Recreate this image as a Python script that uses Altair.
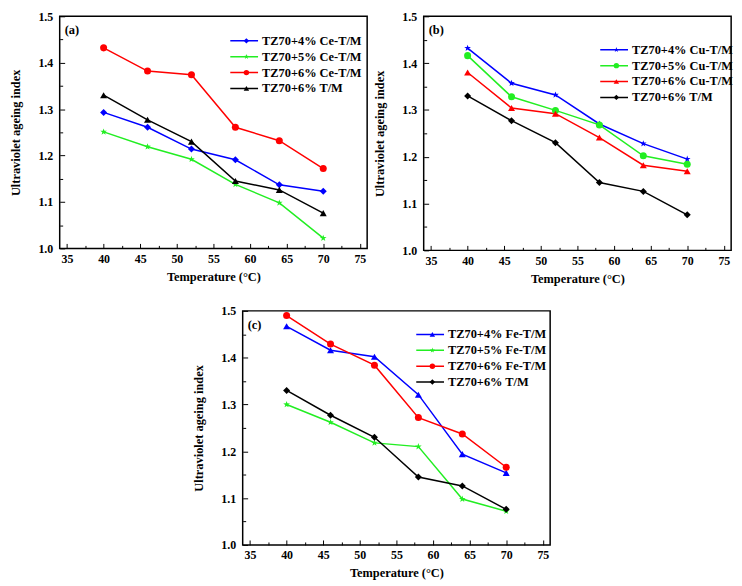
import altair as alt
import pandas as pd

STAR = "M0,-1L0.235,-0.324L0.951,-0.309L0.38,0.124L0.588,0.809L0,0.4L-0.588,0.809L-0.38,0.124L-0.951,-0.309L-0.235,-0.324Z"

temps = [40, 46, 52, 58, 64, 70]
tm_values = [1.330, 1.277, 1.230, 1.145, 1.126, 1.076]

a_series = ["TZ70+4% Ce-T/M", "TZ70+5% Ce-T/M", "TZ70+6% Ce-T/M", "TZ70+6% T/M"]
a_4 = [1.293, 1.261, 1.214, 1.191, 1.137, 1.123]
a_5 = [1.251, 1.219, 1.192, 1.138, 1.098, 1.022]
a_6 = [1.432, 1.382, 1.374, 1.261, 1.232, 1.172]

b_series = ["TZ70+4% Cu-T/M", "TZ70+5% Cu-T/M", "TZ70+6% Cu-T/M", "TZ70+6% T/M"]
b_4 = [1.432, 1.357, 1.332, 1.270, 1.228, 1.195]
b_5 = [1.416, 1.328, 1.299, 1.268, 1.202, 1.184]
b_6 = [1.380, 1.304, 1.292, 1.241, 1.182, 1.169]

c_series = ["TZ70+4% Fe-T/M", "TZ70+5% Fe-T/M", "TZ70+6% Fe-T/M", "TZ70+6% T/M"]
c_4 = [1.467, 1.416, 1.402, 1.321, 1.194, 1.154]
c_5 = [1.300, 1.262, 1.218, 1.210, 1.098, 1.072]
c_6 = [1.490, 1.429, 1.384, 1.272, 1.237, 1.166]

colors = ["#0000FF", "#22EE22", "#FF0000", "#000000"]
x_ticks = [35 + 2.5 * i for i in range(17)]
y_ticks = [round(1.0 + 0.05 * i, 2) for i in range(11)]

FONT = "Liberation Serif"

xaxis = alt.Axis(
    values=x_ticks,
    labelExpr="datum.value % 5 == 0 ? datum.label : ''",
    tickSize={"expr": "datum.value % 5 == 0 ? -5 : -3"},
    labelPadding=10,
    grid=False,
    domain=False,
    labelOverlap=False,
    labelFlush=False,
    tickColor="black",
    tickWidth=1,
    labelFont=FONT,
    labelFontSize=12,
    labelFontWeight="bold",
    labelColor="black",
    titleFont=FONT,
    titleFontSize=12.5,
    titleFontWeight="bold",
    titleColor="black",
    titlePadding=4,
)
yaxis = alt.Axis(
    values=y_ticks,
    labelExpr="abs(datum.value*10 - round(datum.value*10)) < 0.001 ? format(datum.value, '.1f') : ''",
    tickSize={"expr": "abs(datum.value*10 - round(datum.value*10)) < 0.001 ? -5 : -3"},
    labelPadding=12,
    grid=False,
    domain=False,
    labelOverlap=False,
    labelFlush=False,
    tickColor="black",
    tickWidth=1,
    labelFont=FONT,
    labelFontSize=12,
    labelFontWeight="bold",
    labelColor="black",
    titleFont=FONT,
    titleFontSize=12.5,
    titleFontWeight="bold",
    titleColor="black",
    titlePadding=16,
)


def panel(series, values, shapes, label, lx, ly, h):
    rows = []
    for s, vals in zip(series, values):
        for t, v in zip(temps, vals):
            rows.append({"temp": t, "value": v, "series": s, "series_p": s})
    df = pd.DataFrame(rows)
    x = alt.X("temp:Q", scale=alt.Scale(domain=[34, 76], nice=False, zero=False),
              axis=xaxis, title="Temperature (°C)")
    y = alt.Y("value:Q", scale=alt.Scale(domain=[1.0, 1.5], nice=False, zero=False),
              axis=yaxis, title="Ultraviolet ageing index")
    common = dict(title=None, orient="none", legendX=lx, legendY=ly,
                  labelFont=FONT, labelFontSize=12.5, labelFontWeight="bold",
                  labelColor="black", clipHeight=15.5, rowPadding=0, padding=0)
    line_legend = alt.Legend(symbolType="stroke", symbolSize=784, symbolStrokeWidth=1.5,
                             labelOffset=3, **common)
    pt_legend = alt.Legend(symbolSize=30, symbolOffset=11, labelExpr="''", labelOffset=3,
                           **common)
    base = alt.Chart(df)
    lines = base.mark_line(strokeWidth=1.5).encode(
        x=x, y=y,
        color=alt.Color("series:N", scale=alt.Scale(range=colors), legend=line_legend),
    )
    pts = base.mark_point(filled=True, size=50, opacity=1).encode(
        x=x, y=y,
        fill=alt.Fill("series_p:N", scale=alt.Scale(range=colors), legend=pt_legend),
        shape=alt.Shape("series_p:N", scale=alt.Scale(range=shapes), legend=pt_legend),
    )
    txt = alt.Chart(pd.DataFrame({"t": [label]})).mark_text(
        font=FONT, fontSize=12.5, fontWeight="bold", color="black", align="left", baseline="middle"
    ).encode(x=alt.value(5), y=alt.value(14), text="t:N")
    return alt.layer(lines, pts, txt).properties(width=310, height=h)


pa = panel(a_series, [a_4, a_5, a_6, tm_values], ["diamond", STAR, "circle", "triangle-up"], "(a)", 171, 17, 234)
pb = panel(b_series, [b_4, b_5, b_6, tm_values], [STAR, "circle", "triangle-up", "diamond"], "(b)", 177, 26, 236)
pc = panel(c_series, [c_4, c_5, c_6, tm_values], ["triangle-up", STAR, "circle", "diamond"], "(c)", 174, 16, 236)

ind = dict(color="independent", fill="independent", shape="independent")
top = alt.hconcat(pa, pb, spacing=4).resolve_scale(**ind).resolve_legend(**ind)
chart = alt.vconcat(top, pc, spacing=18, center=True).resolve_scale(**ind).resolve_legend(**ind)
chart = chart.properties(
    padding={"left": 0, "top": -1, "right": 0, "bottom": 0},
    background="white",
).configure_view(stroke="black", strokeWidth=1.5)

chart.save("out.html", embed_options={"renderer": "svg", "actions": False})
